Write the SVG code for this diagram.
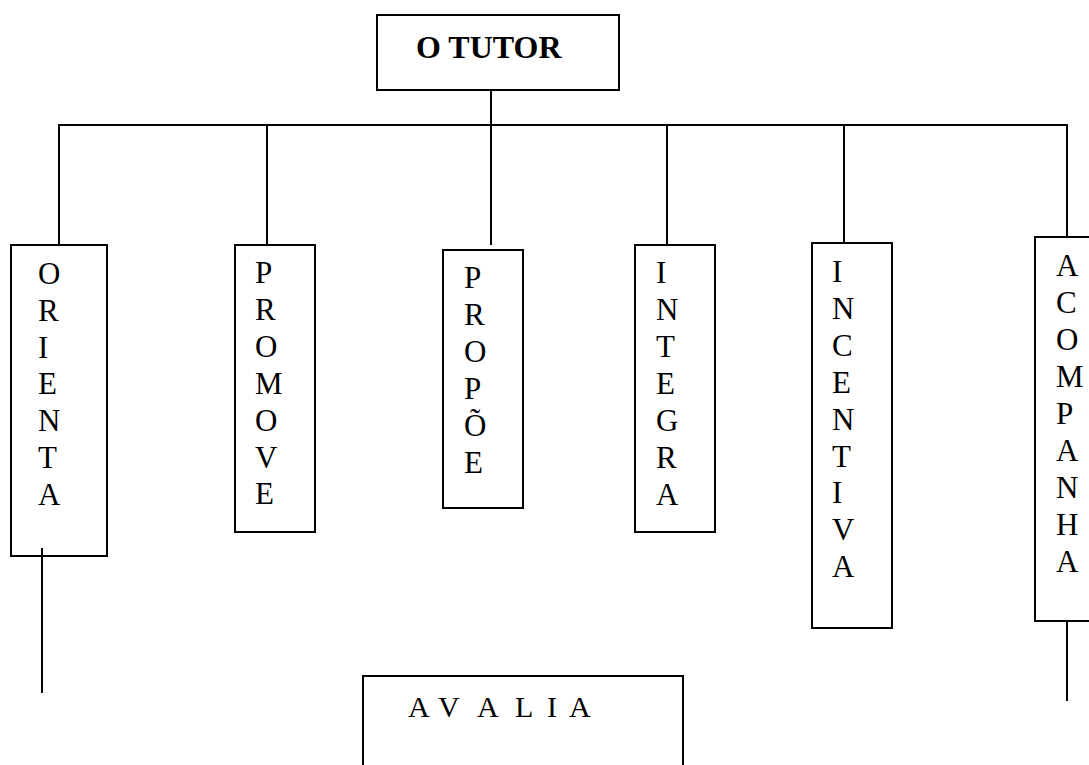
<svg xmlns="http://www.w3.org/2000/svg" width="1089" height="765" viewBox="0 0 1089 765">
<style>
.box{fill:#fff;stroke:#000;stroke-width:2}
.ln{stroke:#000;stroke-width:2;fill:none}
.t{font-family:"Liberation Serif","Times New Roman",serif;font-size:31px;fill:#000}
.a{font-family:"Liberation Serif","Times New Roman",serif;font-size:30px;fill:#000}
.b{font-family:"Liberation Serif","Times New Roman",serif;font-size:32px;font-weight:bold;fill:#000}
</style>
<rect width="1089" height="765" fill="#fff"/>
<g id="connectors">
<line class="ln" x1="491" y1="90" x2="491" y2="245"/>
<line class="ln" x1="59" y1="125" x2="1067" y2="125"/>
<line class="ln" x1="59" y1="124" x2="59" y2="245"/>
<line class="ln" x1="267" y1="124" x2="267" y2="245"/>
<line class="ln" x1="667" y1="124" x2="667" y2="245"/>
<line class="ln" x1="844" y1="124" x2="844" y2="243"/>
<line class="ln" x1="1067" y1="124" x2="1067" y2="237"/>
<line class="ln" x1="42" y1="548" x2="42" y2="693"/>
<line class="ln" x1="1067" y1="621" x2="1067" y2="701"/>
</g>
<g id="tutor">
<rect class="box" x="377" y="15" width="242" height="75"/>
<text class="b" x="416" y="58">O TUTOR</text>
</g>
<g id="orienta">
<rect class="box" x="11" y="245" width="96" height="311"/>
<line class="ln" x1="42" y1="548" x2="42" y2="556"/>
<text class="t" y="284"><tspan x="38">O</tspan><tspan x="38" dy="36.8">R</tspan><tspan x="38" dy="36.8">I</tspan><tspan x="38" dy="36.8">E</tspan><tspan x="38" dy="36.8">N</tspan><tspan x="38" dy="36.8">T</tspan><tspan x="38" dy="36.8">A</tspan></text>
</g>
<g id="promove">
<rect class="box" x="235" y="245" width="80" height="287"/>
<text class="t" y="283"><tspan x="255">P</tspan><tspan x="255" dy="36.9">R</tspan><tspan x="255" dy="36.9">O</tspan><tspan x="255" dy="36.9">M</tspan><tspan x="255" dy="36.9">O</tspan><tspan x="255" dy="36.9">V</tspan><tspan x="255" dy="36.9">E</tspan></text>
</g>
<g id="propoe">
<rect class="box" x="443" y="250" width="80" height="258"/>
<text class="t" y="288"><tspan x="464">P</tspan><tspan x="464" dy="37">R</tspan><tspan x="464" dy="37">O</tspan><tspan x="464" dy="37">P</tspan><tspan x="464" dy="37">Õ</tspan><tspan x="464" dy="37">E</tspan></text>
</g>
<g id="integra">
<rect class="box" x="635" y="245" width="80" height="287"/>
<text class="t" y="283"><tspan x="656">I</tspan><tspan x="656" dy="37">N</tspan><tspan x="656" dy="37">T</tspan><tspan x="656" dy="37">E</tspan><tspan x="656" dy="37">G</tspan><tspan x="656" dy="37">R</tspan><tspan x="656" dy="37">A</tspan></text>
</g>
<g id="incentiva">
<rect class="box" x="812" y="243" width="80" height="385"/>
<text class="t" y="282"><tspan x="832">I</tspan><tspan x="832" dy="36.9">N</tspan><tspan x="832" dy="36.9">C</tspan><tspan x="832" dy="36.9">E</tspan><tspan x="832" dy="36.9">N</tspan><tspan x="832" dy="36.9">T</tspan><tspan x="832" dy="36.9">I</tspan><tspan x="832" dy="36.9">V</tspan><tspan x="832" dy="36.9">A</tspan></text>
</g>
<g id="acompanha">
<rect class="box" x="1035" y="237" width="70" height="384"/>
<text class="t" y="276"><tspan x="1056">A</tspan><tspan x="1056" dy="37">C</tspan><tspan x="1056" dy="37">O</tspan><tspan x="1056" dy="37">M</tspan><tspan x="1056" dy="37">P</tspan><tspan x="1056" dy="37">A</tspan><tspan x="1056" dy="37">N</tspan><tspan x="1056" dy="37">H</tspan><tspan x="1056" dy="37">A</tspan></text>
</g>
<g id="avalia">
<rect class="box" x="363" y="676" width="320" height="100"/>
<text class="a" y="717" x="408 430 438 460 477 499 515 533 547 557 569">A V A L I A</text>
</g>
</svg>
